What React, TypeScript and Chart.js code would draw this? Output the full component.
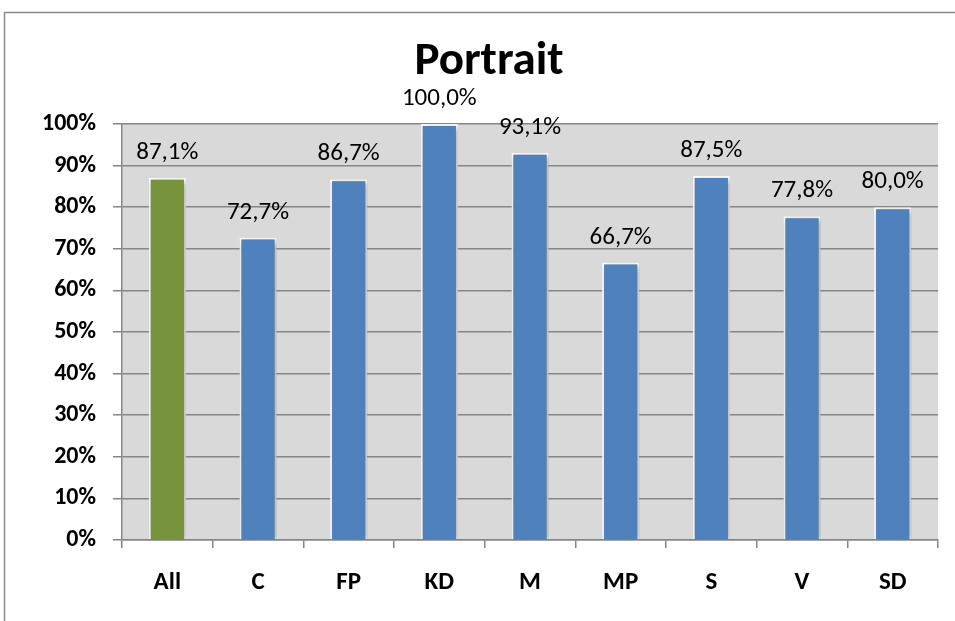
import React, { useEffect, useRef } from "react";
import { Chart, registerables } from "chart.js";

Chart.register(...registerables);

const categories = ["All", "C", "FP", "KD", "M", "MP", "S", "V", "SD"];
const values = [87.1, 72.7, 86.7, 100.0, 93.1, 66.7, 87.5, 77.8, 80.0];
const barColors = ["#77933c", "#4f81bd", "#4f81bd", "#4f81bd", "#4f81bd", "#4f81bd", "#4f81bd", "#4f81bd", "#4f81bd"];
const titleText = "Portrait";

const FONT = "Carlito, Calibri, Lato, sans-serif";
const GRID = "#868686";

const fmt = (v: number) => v.toFixed(1).replace(".", ",") + "%";

export default function App() {
  const ref = useRef<HTMLCanvasElement | null>(null);
  useEffect(() => {
    if (!ref.current) return;
    const framePlugin = {
      id: "frame",
      beforeDraw(chart: any) {
        const { ctx, chartArea } = chart;
        ctx.save();
        ctx.fillStyle = "#ffffff";
        ctx.fillRect(0, 0, chart.width, chart.height);
        ctx.strokeStyle = "#8a8a8a";
        ctx.lineWidth = 1.5;
        ctx.beginPath();
        ctx.moveTo(4.5, chart.height);
        ctx.lineTo(4.5, 12.5);
        ctx.lineTo(chart.width, 12.5);
        ctx.stroke();
        ctx.fillStyle = "#d9d9d9";
        ctx.fillRect(chartArea.left, chartArea.top, chartArea.right - chartArea.left, chartArea.bottom - chartArea.top);
        ctx.restore();
      },
      afterDraw(chart: any) {
        const { ctx } = chart;
        ctx.save();
        ctx.fillStyle = "#000";
        ctx.font = `bold 47px ${FONT}`;
        ctx.textAlign = "center";
        ctx.textBaseline = "middle";
        ctx.fillText(titleText, 489, 62);
        ctx.restore();
      },
    };
    const barPlugin = {
      id: "barDecor",
      beforeDatasetsDraw(chart: any) {
        const ctx = chart.ctx;
        ctx.save();
        ctx.shadowColor = "rgba(0,0,0,0.35)";
        ctx.shadowBlur = 6;
        ctx.shadowOffsetX = 2;
        ctx.shadowOffsetY = 2;
      },
      afterDatasetsDraw(chart: any) {
        const ctx = chart.ctx;
        ctx.restore();
        ctx.save();
        ctx.fillStyle = "#000";
        ctx.font = `25px ${FONT}`;
        ctx.textAlign = "center";
        ctx.textBaseline = "alphabetic";
        const meta = chart.getDatasetMeta(0);
        meta.data.forEach((bar: any, i: number) => {
          ctx.fillText(fmt(values[i]), bar.x, bar.y - 19);
        });
        ctx.restore();
      },
    };
    const chart = new Chart(ref.current, {
      type: "bar",
      data: {
        labels: categories,
        datasets: [
          {
            data: values,
            backgroundColor: barColors,
            borderColor: "#ffffff",
            borderWidth: 2,
            barPercentage: 0.41,
            categoryPercentage: 1,
          },
        ],
      },
      options: {
        responsive: false,
        animation: false,
        layout: { padding: { top: 124, right: 17, left: 0, bottom: 0 } },
        plugins: {
          legend: { display: false },
          title: { display: false },
          tooltip: { enabled: false },
        },
        scales: {
          x: {
            afterFit(scale: any) {
              scale.height = 81;
            },
            grid: {
              drawOnChartArea: false,
              drawTicks: true,
              tickLength: 8,
              color: GRID,
              lineWidth: 1.5,
            },
            border: { display: true, color: GRID, width: 1.5 },
            ticks: {
              color: "#000",
              font: { family: FONT, size: 25, weight: "bold" },
              padding: 20,
            },
          },
          y: {
            min: 0,
            max: 100,
            afterFit(scale: any) {
              scale.width = 122;
            },
            grid: { color: GRID, lineWidth: 1.5, tickLength: 9, drawTicks: true },
            border: { display: true, color: GRID, width: 1.5 },
            ticks: {
              stepSize: 10,
              color: "#000",
              font: { family: FONT, size: 24, weight: "bold" },
              padding: 17,
              callback: (v: any) => v + "%",
            },
          },
        },
      },
      plugins: [framePlugin, barPlugin],
    });
    return () => chart.destroy();
  }, []);
  return (
    <div style={{ position: "absolute", left: 0, top: 0, width: 955, height: 621 }}>
      <canvas ref={ref} width={955} height={621} style={{ width: 955, height: 621, display: "block" }} />
    </div>
  );
}
